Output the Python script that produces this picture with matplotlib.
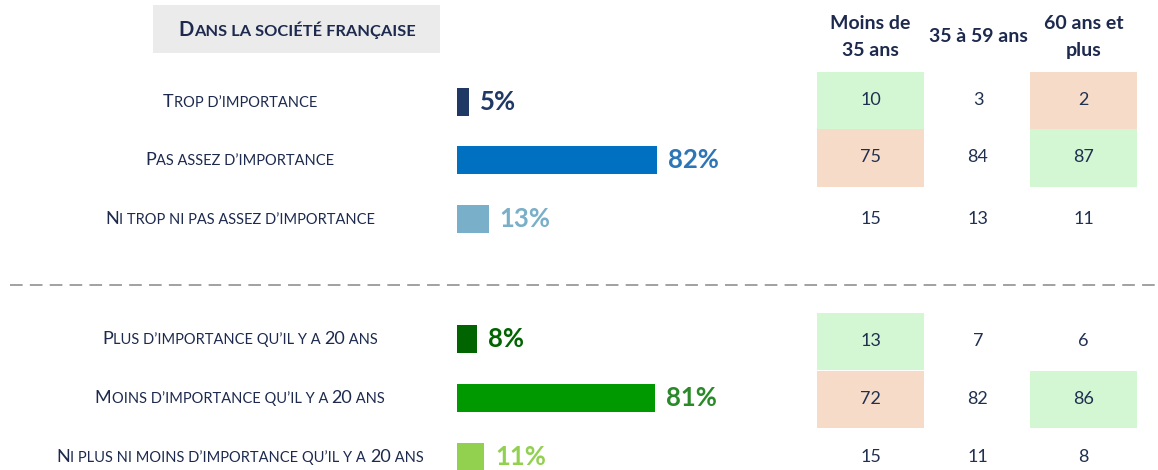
import numpy as np
import matplotlib
matplotlib.use('Agg')
import matplotlib.pyplot as plt
from matplotlib.patches import Rectangle
from matplotlib.font_manager import FontProperties

# data
title = "Dans la société française"
age_groups = ["Moins de\n35 ans", "35 à 59 ans", "60 ans et\nplus"]

labels_top = ["Trop d’importance", "Pas assez d’importance",
              "Ni trop ni pas assez d’importance"]
values_top = [5, 82, 13]
table_top = [[10, 3, 2], [75, 84, 87], [15, 13, 11]]
marks_top = [["g", "", "o"], ["o", "", "g"], ["", "", ""]]

labels_bot = ["Plus d’importance qu’il y a 20 ans",
              "Moins d’importance qu’il y a 20 ans",
              "Ni plus ni moins d’importance qu’il y a 20 ans"]
values_bot = [8, 81, 11]
table_bot = [[13, 7, 6], [72, 82, 86], [15, 11, 8]]
marks_bot = [["g", "", ""], ["o", "", "g"], ["", "", ""]]

# styling
W, H = 1158, 470
NAVY = "#1d2a4e"
colors_top = ["#1f3864", "#0070c0", "#79afc9"]
text_top = ["#1f3864", "#2e75b6", "#79afc9"]
colors_bot = ["#006400", "#009a00", "#92d050"]
text_bot = ["#006400", "#2a8a2a", "#92d050"]
cell_colors = {"g": "#d3f7d3", "o": "#f6dcc8"}

rows_top = [102, 160, 219]
rows_bot = [339, 398, 457]
cells_top = [100, 157.5]
cells_bot = [341, 399]
col_x = [870.5, 978, 1083.5]
FONT = "Lato"

fig = plt.figure(figsize=(W / 100, H / 100), dpi=100)
bg = fig.add_axes([0, 0, 1, 1])
bg.set_xlim(0, W)
bg.set_ylim(H, 0)
bg.axis('off')

renderer = fig.canvas.get_renderer()


def text_w(s, fp):
    w1 = renderer.get_text_width_height_descent("|" + s + "|", fp, ismath=False)[0]
    w0 = renderer.get_text_width_height_descent("||", fp, ismath=False)[0]
    return w1 - w0


def small_caps(x, y, s, big, small, color, weight='normal'):
    # split into runs: capitals/digits big, the rest as small capitals
    runs = []
    for c in s:
        is_big = c.isupper() or c.isdigit()
        if runs and runs[-1][1] == is_big:
            runs[-1][0] += c
        else:
            runs.append([c, is_big])
    fps = {True: FontProperties(family=FONT, size=big, weight=weight),
           False: FontProperties(family=FONT, size=small, weight=weight)}
    widths = [text_w(r.upper(), fps[b]) for r, b in runs]
    cx = x - sum(widths) / 2
    for (r, b), w in zip(runs, widths):
        bg.text(cx, y, r.upper(), fontproperties=fps[b], color=color,
                ha='left', va='baseline')
        cx += w


# title box
bg.add_patch(Rectangle((153, 5), 287, 48, facecolor="#ebebeb", edgecolor='none'))
small_caps(297, 36, title, 14.5, 11.8, NAVY, weight='bold')

# column headers
for x, g in zip(col_x, age_groups):
    bg.text(x, 37, g, ha='center', va='center', family=FONT, fontsize=14,
            fontweight='bold', color=NAVY, linespacing=1.75)

# separator
bg.plot([10, W], [285, 285], color="#9a9a9a", lw=1.3, linestyle=(0, (7, 4)))

# left labels
for y, lab in zip(rows_top + rows_bot, labels_top + labels_bot):
    small_caps(240, y + 5, lab, 13, 10.5, NAVY)

# tables
for tab, marks, ys, cy in [(table_top, marks_top, rows_top, cells_top),
                           (table_bot, marks_bot, rows_bot, cells_bot)]:
    for i, row in enumerate(tab):
        yc = cy[i] if i < 2 else ys[i]
        for j, v in enumerate(row):
            m = marks[i][j]
            if m:
                bg.add_patch(Rectangle((col_x[j] - 53.5, yc - 28.5), 107, 57.5,
                                       facecolor=cell_colors[m], edgecolor='none'))
            bg.text(col_x[j], yc, str(v), ha='center', va='center', family=FONT,
                    fontsize=13, color="#203050")

# bars
bx = fig.add_axes([457 / W, 0, 243.9 / W, 1])
bx.set_xlim(0, 100)
bx.set_ylim(H, 0)
bx.axis('off')
bx.barh(rows_top, values_top, height=28, color=colors_top)
bx.barh(rows_bot, values_bot, height=28, color=colors_bot)
for ys, vals, tcs in [(rows_top, values_top, text_top), (rows_bot, values_bot, text_bot)]:
    for y, v, c in zip(ys, vals, tcs):
        bx.annotate(f"{v}%", xy=(v, y), xytext=(8, 0), textcoords='offset points',
                    ha='left', va='center', family=FONT, fontsize=18.5,
                    fontweight='bold', color=c, annotation_clip=False)

fig.savefig("out.png", dpi=100)
